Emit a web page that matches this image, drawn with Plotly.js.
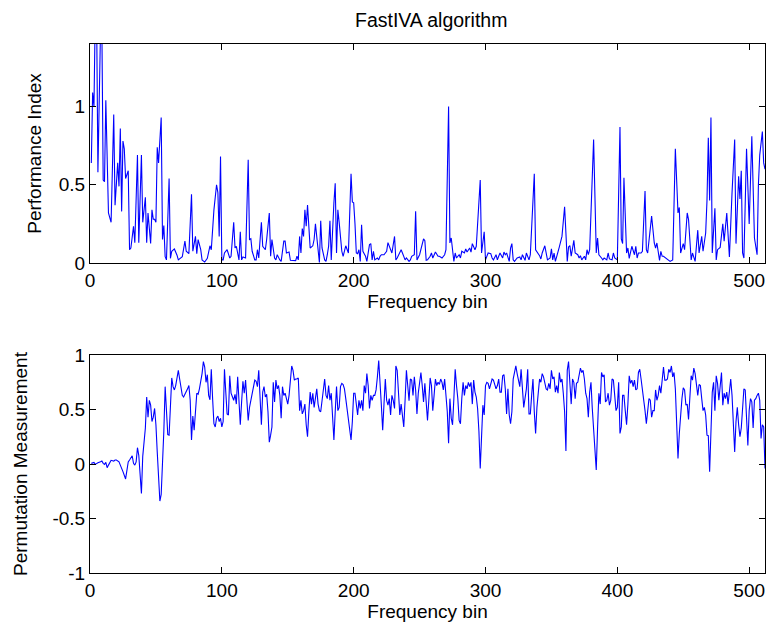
<!DOCTYPE html>
<html>
<head>
<meta charset="utf-8">
<script src="https://cdn.plot.ly/plotly-3.0.1.min.js"></script>
<style>html,body{margin:0;padding:0;background:#fff;}#chart{width:770px;height:628px;}</style>
</head>
<body>
<div id="chart"></div>
<script>
// Top panel: Performance Index per frequency bin
const piBins = [1,2,3,4,5,6,8,9,10,11,12,14,16,18,19,21,22,23,24,25,26,27,29,30,31,33,34,36,37,39,40,42,43,44,46,47,48,49,50,51,52,54,55,56,57,58,60,61,62,64,66,67,70,72,73,75,77,78,80,81,82,84,85,87,89,91,92,94,96,97,98,99,100,101,102,104,106,107,109,110,111,112,113,114,115,116,118,120,121,122,123,125,126,127,128,130,131,133,134,136,137,138,140,141,142,144,145,147,148,149,151,152,154,156,157,158,159,160,161,162,163,164,165,166,167,169,170,171,172,173,174,175,176,178,179,180,181,182,183,185,186,187,188,189,191,192,194,196,198,199,200,201,202,203,204,205,206,207,209,210,212,213,214,215,216,218,219,220,221,223,225,226,228,229,231,232,233,236,237,239,240,242,243,244,246,247,248,250,253,254,255,256,258,259,260,262,264,265,267,269,270,272,273,274,276,277,278,280,281,282,284,285,286,288,289,290,292,293,296,297,299,300,302,304,305,306,308,309,310,311,313,314,315,316,318,319,320,321,322,323,324,326,327,328,330,331,333,334,337,338,340,341,342,343,345,346,347,349,350,351,352,353,355,356,358,360,361,362,363,364,365,367,368,370,371,372,373,375,376,377,378,379,382,384,385,386,388,389,390,392,393,394,396,397,398,400,402,403,404,405,407,408,409,410,411,413,414,415,416,418,419,421,422,423,426,428,429,430,432,433,434,435,437,439,440,442,444,446,447,448,450,451,453,454,456,457,459,461,462,464,465,467,468,469,470,471,472,474,475,476,478,480,481,483,485,487,489,490,492,493,494,495,496,498,500,502,503,504,506,507,508,510,511,512];
const piValues = [0.64,1.09,1.0,1.6,1.6,0.58,1.5,1.5,0.53,0.52,1.04,0.32,0.26,0.95,0.37,0.64,0.49,0.86,0.33,0.78,0.73,0.54,0.59,0.085,0.095,0.235,0.13,0.69,0.13,0.69,0.26,0.42,0.13,0.32,0.125,0.34,0.28,0.28,0.26,0.74,0.64,0.93,0.15,0.24,0.04,0.02,0.54,0.03,0.075,0.09,0.05,0.02,0.04,0.14,0.075,0.06,0.44,0.075,0.17,0.06,0.15,0.085,0.02,0.006,0.03,0.11,0.085,0.34,0.5,0.45,0.17,0.68,0.02,0.02,0.064,0.085,0.032,0.043,0.26,0.096,0.107,0.064,0.02,0.2,0.02,0.038,0.032,0.66,0.15,0.155,0.075,0.02,0.02,0.085,0.032,0.26,0.107,0.085,0.15,0.32,0.043,0.15,0.032,0.02,0.053,0.02,0.01,0.14,0.14,0.064,0.07,0.017,0.017,0.015,0.043,0.02,0.17,0.064,0.22,0.17,0.34,0.235,0.37,0.19,0.096,0.11,0.15,0.25,0.15,0.107,0.004,0.27,0.096,0.02,0.01,0.053,0.107,0.27,0.02,0.385,0.51,0.064,0.34,0.26,0.075,0.043,0.11,0.064,0.57,0.39,0.385,0.25,0.064,0.06,0.085,0.01,0.245,0.075,0.043,0.01,0.118,0.124,0.02,0.075,0.02,0.032,0.02,0.043,0.053,0.053,0.075,0.13,0.085,0.064,0.17,0.02,0.032,0.085,0.064,0.02,0.032,0.01,0.02,0.043,0.053,0.33,0.02,0.053,0.154,0.143,0.017,0.02,0.043,0.064,0.032,0.07,0.043,0.043,0.032,0.053,0.085,1.0,0.128,0.16,0.01,0.064,0.032,0.053,0.032,0.075,0.064,0.09,0.07,0.096,0.07,0.124,0.085,0.107,0.53,0.064,0.2,0.02,0.064,0.06,0.032,0.02,0.053,0.02,0.043,0.064,0.032,0.07,0.053,0.064,0.01,0.096,0.124,0.02,0.01,0.02,0.032,0.038,0.02,0.053,0.017,0.064,0.02,0.053,0.57,0.085,0.064,0.047,0.026,0.064,0.11,0.053,0.02,0.032,0.09,0.02,0.064,0.01,0.064,0.103,0.17,0.36,0.19,0.01,0.103,0.111,0.043,0.145,0.064,0.053,0.032,0.047,0.02,0.043,0.02,0.085,0.053,0.085,0.79,0.064,0.16,0.053,0.032,0.02,0.032,0.02,0.064,0.026,0.02,0.064,0.032,0.02,0.87,0.154,0.124,0.545,0.064,0.096,0.03,0.064,0.107,0.053,0.107,0.032,0.064,0.064,0.075,0.46,0.085,0.064,0.30,0.128,0.096,0.128,0.017,0.075,0.043,0.043,0.032,0.02,0.01,0.02,0.73,0.32,0.355,0.064,0.124,0.085,0.32,0.278,0.02,0.064,0.01,0.21,0.064,0.17,0.075,0.192,0.4,0.8,0.4,0.93,0.064,0.35,0.02,0.085,0.1,0.25,0.14,0.32,0.038,0.45,0.79,0.124,0.555,0.41,0.59,0.064,0.032,0.73,0.25,0.81,0.49,0.16,0.053,0.5,0.69,0.84,0.64,0.6];

// Bottom panel: Permutation Measurement per frequency bin
const pmBins = [1,3,4,5,6,8,9,10,11,12,13,14,15,16,18,19,20,22,23,24,25,27,28,29,30,31,32,33,34,35,36,37,38,39,40,41,42,43,44,45,46,47,48,49,50,51,52,53,54,55,56,57,58,59,60,61,62,63,64,65,66,67,68,69,70,71,73,74,75,76,77,78,79,80,81,82,83,85,86,87,88,89,90,91,92,93,94,95,96,97,98,99,100,101,102,103,104,105,106,107,108,109,110,111,112,113,114,115,116,117,118,119,120,121,122,123,124,125,126,127,128,129,130,131,132,133,134,135,136,137,138,139,140,141,142,143,144,145,146,147,148,149,150,151,152,153,154,155,156,157,158,159,160,161,162,163,164,165,166,167,168,169,170,171,172,173,174,175,176,177,178,179,180,181,182,183,184,185,186,187,188,189,190,191,192,193,194,195,196,197,198,199,200,201,202,203,204,205,206,207,208,209,210,211,212,213,214,215,216,217,218,219,221,222,223,224,225,226,227,228,229,230,231,232,233,234,235,236,237,238,239,240,241,242,243,244,245,246,247,248,249,250,251,252,253,254,255,256,257,258,259,260,261,262,263,264,265,266,267,268,269,270,271,272,273,274,275,276,277,278,279,280,281,282,283,284,285,286,287,288,289,290,291,292,293,294,295,296,297,298,299,300,301,302,303,304,305,306,307,308,309,310,311,312,313,314,315,316,317,318,319,320,321,322,323,324,325,326,327,328,329,331,332,333,334,335,336,337,338,339,340,341,342,343,344,345,346,347,348,349,350,351,352,353,354,355,356,357,358,359,360,361,362,363,364,365,366,367,368,369,370,371,372,373,374,375,376,377,378,379,380,381,382,383,384,385,386,387,388,389,390,391,392,393,394,395,396,397,398,399,400,401,402,403,404,405,406,407,408,409,410,411,412,413,414,415,416,417,418,419,420,421,422,423,424,425,426,427,428,429,430,431,432,433,434,435,436,437,438,439,440,441,442,443,444,445,446,447,448,449,450,451,452,453,454,455,456,457,458,459,460,461,462,463,464,465,466,467,468,469,470,471,472,473,474,475,476,477,478,479,480,481,482,483,484,485,486,487,488,489,490,491,492,493,494,495,496,497,498,499,500,501,502,503,504,505,506,507,508,509,510,511,512];
const pmValues = [0.006,0.015,-0.003,0.006,0.012,0.02,0.027,0.006,-0.003,0.015,-0.034,-0.01,0.015,0.034,0.027,0.037,0.037,0.02,-0.01,-0.034,-0.07,-0.137,-0.065,0.02,0.037,0.058,0.076,0.006,-0.01,0.02,0.15,0.08,-0.07,-0.27,0.07,0.18,0.33,0.615,0.43,0.585,0.54,0.39,0.43,0.51,0.36,0.11,-0.16,-0.34,-0.28,-0.01,0.3,0.71,0.49,0.27,0.265,0.6,0.79,0.71,0.68,0.72,0.78,0.86,0.78,0.71,0.63,0.615,0.66,0.69,0.72,0.585,0.22,0.44,0.31,0.48,0.65,0.64,0.69,0.83,0.94,0.89,0.75,0.82,0.63,0.59,0.87,0.6,0.37,0.34,0.42,0.44,0.39,0.42,0.34,0.39,0.87,0.66,0.46,0.45,0.81,0.65,0.62,0.585,0.64,0.55,0.8,0.54,0.36,0.57,0.76,0.65,0.77,0.585,0.4,0.52,0.585,0.615,0.69,0.77,0.76,0.71,0.86,0.55,0.36,0.66,0.71,0.615,0.64,0.48,0.2,0.265,0.34,0.75,0.57,0.77,0.69,0.72,0.63,0.42,0.71,0.63,0.65,0.6,0.55,0.63,0.78,0.9,0.86,0.77,0.78,0.78,0.79,0.49,0.585,0.46,0.49,0.55,0.36,0.25,0.48,0.66,0.55,0.65,0.52,0.615,0.69,0.55,0.49,0.48,0.585,0.69,0.78,0.63,0.6,0.72,0.585,0.65,0.45,0.22,0.48,0.71,0.49,0.52,0.71,0.74,0.73,0.69,0.6,0.51,0.45,0.36,0.22,0.39,0.65,0.65,0.52,0.45,0.585,0.51,0.585,0.49,0.72,0.65,0.83,0.72,0.51,0.63,0.585,0.63,0.63,0.68,0.8,0.95,0.54,0.31,0.55,0.78,0.585,0.54,0.6,0.45,0.63,0.585,0.51,0.9,0.86,0.69,0.45,0.55,0.43,0.34,0.585,0.86,0.72,0.58,0.78,0.77,0.63,0.8,0.68,0.46,0.65,0.74,0.84,0.72,0.57,0.74,0.52,0.4,0.585,0.79,0.72,0.49,0.63,0.78,0.72,0.75,0.73,0.78,0.75,0.68,0.78,0.6,0.48,0.19,0.6,0.42,0.36,0.6,0.87,0.72,0.6,0.4,0.37,0.6,0.75,0.63,0.72,0.69,0.75,0.71,0.75,0.55,0.77,0.66,0.615,0.51,0.3,-0.04,0.3,0.54,0.45,0.72,0.75,0.74,0.69,0.75,0.78,0.77,0.72,0.69,0.72,0.78,0.66,0.66,0.81,0.82,0.69,0.46,0.69,0.45,0.37,0.48,0.78,0.86,0.9,0.83,0.75,0.71,0.87,0.69,0.52,0.69,0.87,0.46,0.46,0.63,0.78,0.48,0.28,0.52,0.68,0.78,0.75,0.83,0.8,0.75,0.69,0.68,0.74,0.69,0.86,0.78,0.8,0.66,0.72,0.65,0.84,0.75,0.78,0.65,0.48,0.12,0.86,0.94,0.77,0.55,0.78,0.75,0.6,0.74,0.75,0.81,0.88,0.84,0.86,0.78,0.65,0.6,0.43,0.66,0.75,0.51,0.34,0.16,-0.055,0.33,0.65,0.55,0.84,0.8,0.82,0.57,0.585,0.65,0.54,0.585,0.78,0.77,0.65,0.49,0.52,0.75,0.28,0.34,0.63,0.63,0.49,0.36,0.55,0.81,0.74,0.77,0.71,0.77,0.68,0.69,0.84,0.87,0.78,0.69,0.615,0.49,0.37,0.52,0.6,0.585,0.43,0.49,0.49,0.68,0.585,0.63,0.72,0.65,0.78,0.89,0.77,0.77,0.78,0.87,0.84,0.9,0.8,0.84,0.69,0.36,0.05,0.28,0.48,0.6,0.7,0.68,0.54,0.55,0.41,0.63,0.81,0.77,0.88,0.83,0.75,0.63,0.73,0.72,0.6,0.49,0.52,0.45,0.265,0.26,-0.07,0.33,0.66,0.75,0.49,0.81,0.74,0.585,0.72,0.84,0.54,0.65,0.6,0.66,0.55,0.69,0.78,0.63,0.42,0.11,0.39,0.52,0.36,0.25,0.33,0.55,0.69,0.68,0.48,0.17,0.49,0.6,0.57,0.33,0.585,0.6,0.63,0.65,0.585,0.235,0.36,0.34,-0.04,0.22];

const titleText = "FastIVA algorithm";
const xTitle = "Frequency bin";
const yTitleTop = "Performance Index";
const yTitleBottom = "Permutation Measurement";
const xTicks = [0,100,200,300,400,500];
const topYTicks = [0,0.5,1];
const bottomYTicks = [-1,-0.5,0,0.5,1];
const bottomYTickText = ["-1","-0.5","0","0.5","1"];

const font = {family: "Liberation Sans, Arial, sans-serif", size: 19, color: "#000"};
const titleFont = {family: "Liberation Sans, Arial, sans-serif", size: 19.5, color: "#000"};
const lineStyle = {color: "#0000ff", width: 1.1};

const axisCommon = {
  showline: true, linecolor: "#000", linewidth: 1, mirror: "ticks",
  ticks: "inside", ticklen: 6, tickwidth: 1, tickcolor: "#000",
  showgrid: false, zeroline: false, tickfont: font
};

const traces = [
  {x: piBins, y: piValues, type: "scatter", mode: "lines", line: lineStyle, xaxis: "x", yaxis: "y", hoverinfo: "skip"},
  {x: pmBins, y: pmValues, type: "scatter", mode: "lines", line: lineStyle, xaxis: "x2", yaxis: "y2", hoverinfo: "skip"}
];

const layout = {
  width: 770, height: 628,
  paper_bgcolor: "#fff", plot_bgcolor: "#fff",
  showlegend: false,
  font: font,
  margin: {l: 90, r: 5, t: 44, b: 55},
  title: {text: titleText, font: titleFont, x: 0.56, xanchor: "center", y: 0.968, yanchor: "middle"},
  xaxis: Object.assign({}, axisCommon, {domain: [0,1], anchor: "y", range: [0,512], tickvals: xTicks,
    title: {text: xTitle, font: font, standoff: 0}}),
  yaxis: Object.assign({}, axisCommon, {domain: [0.586,1], anchor: "x", range: [0,1.4], tickvals: topYTicks,
    title: {text: yTitleTop, font: font, standoff: 12}}),
  xaxis2: Object.assign({}, axisCommon, {domain: [0,1], anchor: "y2", range: [0,512], tickvals: xTicks,
    title: {text: xTitle, font: font, standoff: 0}}),
  yaxis2: Object.assign({}, axisCommon, {domain: [0,0.412], anchor: "x2", range: [-1,1], tickvals: bottomYTicks, ticktext: bottomYTickText,
    title: {text: yTitleBottom, font: font, standoff: 19}})
};

Plotly.newPlot("chart", traces, layout, {staticPlot: true, displayModeBar: false});
</script>
</body>
</html>
